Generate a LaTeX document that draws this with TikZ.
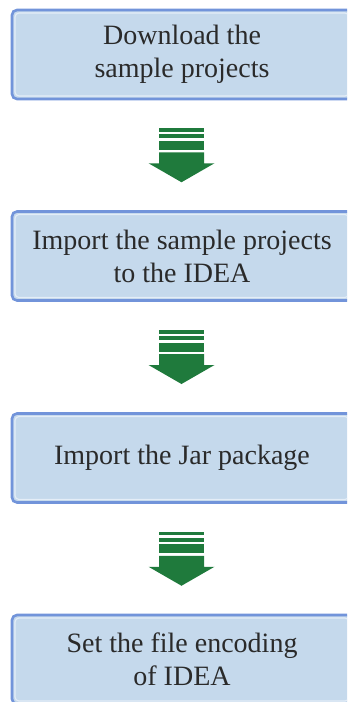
\documentclass[tikz,border=0pt]{standalone}
\usepackage{fontspec}
\setmainfont{Liberation Serif}
\usetikzlibrary{calc}
\definecolor{boxfill}{HTML}{C5D9EC}
\definecolor{boxline}{HTML}{7294DA}
\definecolor{boxinner}{HTML}{E4EDF7}
\definecolor{arrowgreen}{HTML}{1F7A3C}
\definecolor{textgray}{HTML}{2A2A2A}
\tikzset{
  stepbox/.style={draw=boxline, line width=2.6bp, fill=boxfill, rounded corners=5bp,
    minimum width=340bp, minimum height=89bp, inner sep=0pt, align=center,
    text=textgray, font=\fontsize{28bp}{33bp}\selectfont,
    path picture={\draw[boxinner, line width=1.1bp, rounded corners=4bp]
      ([xshift=3bp,yshift=-3bp]path picture bounding box.north west) rectangle
      ([xshift=-3bp,yshift=3bp]path picture bounding box.south east);}},
  greenarrow/.pic={
    \fill[arrowgreen] (-22.5,-27) rectangle (22.5,-23.5);
    \fill[arrowgreen] (-22.5,-21) rectangle (22.5,-17);
    \fill[arrowgreen] (-22.5,-14.5) rectangle (22.5,-5.5);
    \fill[arrowgreen] (-22.5,-3) -- (22.5,-3) -- (22.5,8) -- (33,8) -- (0,27) -- (-33,8) -- (-22.5,8) -- cycle;
  }
}
\begin{document}
\begin{tikzpicture}[x=1bp,y=-1bp]
\useasboundingbox (0,0) rectangle (347,702);
\clip (0,0) rectangle (347,702);
\node[stepbox] (b1) at (182,54.5) {Download the\\sample projects};
\node[stepbox] (b2) at (182,256) {Import the sample projects\\to the IDEA};
\node[stepbox] (b3) at (182,458) {Import the Jar package};
\node[stepbox] (b4) at (182,659.5) {Set the file encoding\\of IDEA};
\pic at ($(b1.south)!0.5!(b2.north)+(-0.5,0)$) {greenarrow};
\pic at ($(b2.south)!0.5!(b3.north)+(-0.5,0)$) {greenarrow};
\pic at ($(b3.south)!0.5!(b4.north)+(-0.5,0)$) {greenarrow};
\end{tikzpicture}
\end{document}
